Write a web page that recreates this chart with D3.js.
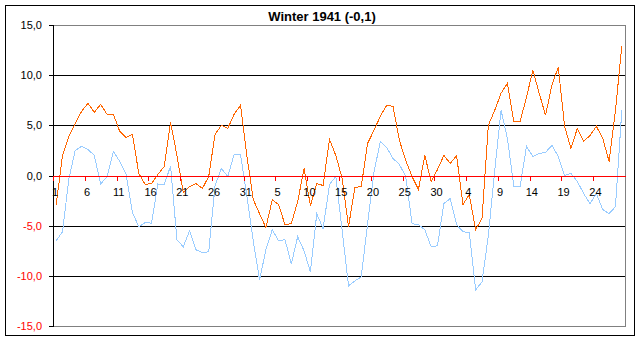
<!DOCTYPE html>
<html><head><meta charset="utf-8">
<script src="https://cdn.jsdelivr.net/npm/d3@7"></script>
<style>body{margin:0;background:#fff}svg{display:block}text{font-family:"Liberation Sans",Arial,sans-serif}</style>
</head><body><svg id="c" width="641" height="342"></svg>
<script>
const title = "Winter 1941 (-0,1)";
const categories = [
 "1","2","3","4","5","6","7","8","9","10","11","12","13","14","15","16","17","18","19","20","21","22","23","24","25","26","27","28","29","30","31",
 "1","2","3","4","5","6","7","8","9","10","11","12","13","14","15","16","17","18","19","20","21","22","23","24","25","26","27","28","29","30","31",
 "1","2","3","4","5","6","7","8","9","10","11","12","13","14","15","16","17","18","19","20","21","22","23","24","25","26","27","28"];
const orangeSeries = [
 -2.9,2.0,3.9,5.2,6.4,7.2,6.3,7.1,6.1,6.1,4.4,3.8,4.1,0.2,-0.9,-0.8,0.1,0.9,5.3,2.0,-1.7,-1.1,-0.8,-1.3,-0.1,4.1,5.0,4.7,6.1,7.0,2.0,
 -2.4,-3.8,-5.2,-2.4,-2.9,-4.9,-4.8,-2.6,0.7,-3.0,-0.8,-1.0,3.6,2.0,-0.3,-5.1,-1.2,-1.1,3.2,4.5,5.9,7.0,6.9,3.5,1.5,-0.1,-1.4,2.0,-0.6,0.6,2.0,
 1.2,2.0,-2.9,-1.9,-5.4,-4.3,5.0,6.5,8.2,9.2,5.4,5.4,7.8,10.5,8.2,6.0,9.0,10.8,4.9,2.7,4.7,3.4,4.0,4.9,3.7,1.4,6.5,12.9];
const blueSeries = [
 -6.5,-5.6,-0.3,2.5,2.9,2.6,2.0,-0.85,-0.1,2.4,1.4,0.1,-3.7,-5.1,-4.7,-4.75,-0.85,-0.9,0.95,-6.4,-7.1,-5.5,-7.4,-7.7,-7.6,-1.0,0.7,-0.1,2.1,2.1,-2.0,
 -6.5,-10.4,-7.4,-5.4,-6.5,-6.4,-8.8,-6.1,-7.5,-9.6,-3.8,-5.3,-0.9,-0.1,-5.5,-11.0,-10.5,-10.1,-4.8,0.3,3.4,2.8,1.7,1.1,-0.1,-4.8,-4.9,-5.4,-7.1,-7.0,-2.8,
 -2.3,-4.9,-5.6,-5.7,-11.4,-10.6,-6.0,0.5,6.5,3.7,-1.05,-1.05,2.9,1.9,2.2,2.3,3.0,1.9,0.0,0.2,-0.6,-1.8,-2.8,-1.8,-3.4,-3.8,-3.1,6.5];
const yTicks = [-15,-10,-5,0,5,10,15];
const yTickLabels = ["-15,0","-10,0","-5,0","0,0","5,0","10,0","15,0"];

const svg = d3.select("#c");
svg.append("rect").attr("x",5.5).attr("y",5.5).attr("width",629).attr("height",330)
  .attr("fill","#fff").attr("stroke","#000");

const L = 53, R = 625, T = 25, B = 326;
const x = d3.scaleBand().domain(d3.range(categories.length)).range([L, R]).padding(0);
const y = d3.scaleLinear().domain([-15, 15]).range([B, T]);
const cx = i => x(i) + x.bandwidth() / 2;
const py = v => Math.round(y(v)) + 0.5;

// plot area border
svg.append("rect").attr("x", L + 0.5).attr("y", T + 0.5).attr("width", R - L).attr("height", B - T)
  .attr("fill", "none").attr("stroke", "#808080").attr("shape-rendering", "crispEdges");

// gridlines
svg.append("g").selectAll("line").data(yTicks.filter(v => v !== 0 && Math.abs(v) !== 15)).join("line")
  .attr("x1", L).attr("x2", R).attr("y1", d => py(d)).attr("y2", d => py(d))
  .attr("stroke", "#000").attr("shape-rendering", "crispEdges");

// y axis
svg.append("line").attr("x1", L + 0.5).attr("x2", L + 0.5).attr("y1", T).attr("y2", B + 1)
  .attr("stroke", "#000").attr("shape-rendering", "crispEdges");
const yg = svg.append("g");
yg.selectAll("line").data(yTicks).join("line")
  .attr("x1", L - 4).attr("x2", L + 1).attr("y1", d => py(d)).attr("y2", d => py(d))
  .attr("stroke", "#000").attr("shape-rendering", "crispEdges");
yg.selectAll("text").data(yTicks).join("text")
  .attr("x", 42).attr("y", d => y(d) + 4).attr("text-anchor", "end")
  .attr("font-size", 11).attr("fill", d => d < 0 ? "#ff0000" : "#000")
  .text((d, i) => yTickLabels[i]);

// data lines
const line = d3.line().x((d, i) => cx(i)).y(d => y(d));
svg.append("path").datum(blueSeries).attr("d", line).attr("fill", "none")
  .attr("stroke", "#99ccff").attr("stroke-width", 1).attr("shape-rendering", "crispEdges");
svg.append("path").datum(orangeSeries).attr("d", line).attr("fill", "none")
  .attr("stroke", "#ff6600").attr("stroke-width", 1).attr("shape-rendering", "crispEdges");

// x axis (at zero)
const y0 = py(0);
svg.append("line").attr("x1", L).attr("x2", R + 1).attr("y1", y0).attr("y2", y0)
  .attr("stroke", "#ff0000").attr("shape-rendering", "crispEdges");
const tickIdx = d3.range(categories.length).filter(i => i % 5 === 0);
svg.append("g").selectAll("line").data(tickIdx).join("line")
  .attr("x1", i => Math.round(x(i)) + 0.5).attr("x2", i => Math.round(x(i)) + 0.5)
  .attr("y1", y0).attr("y2", y0 + 4)
  .attr("stroke", "#ff0000").attr("shape-rendering", "crispEdges");
svg.append("g").selectAll("text").data(tickIdx).join("text")
  .attr("x", i => cx(i) - 1).attr("y", 196).attr("text-anchor", "middle")
  .attr("font-size", 11).attr("fill", "#000").text(i => categories[i]);

// title
svg.append("text").attr("x", 322).attr("y", 21).attr("text-anchor", "middle")
  .attr("font-size", 13).attr("font-weight", "bold").attr("fill", "#000").text(title);
</script></body></html>
